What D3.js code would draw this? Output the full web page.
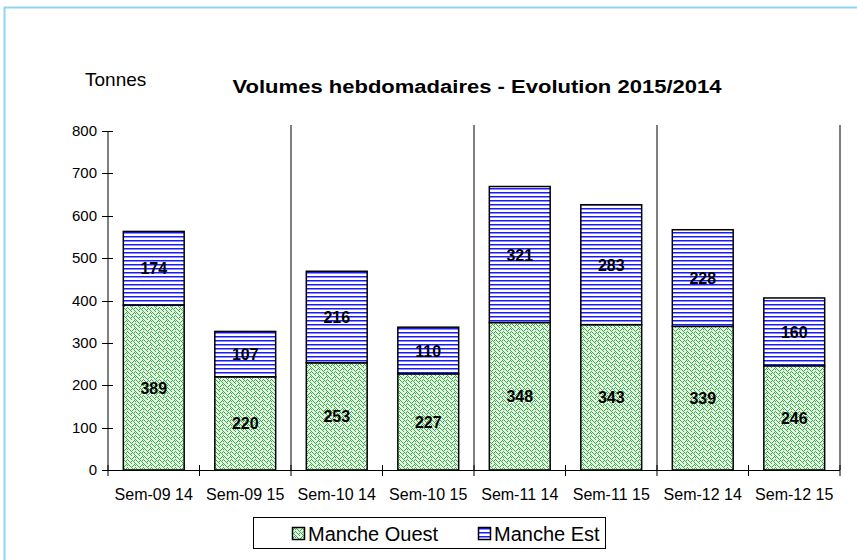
<!DOCTYPE html>
<meta charset="utf-8">
<style>
body { margin: 0; background: #fff; }
text { font-family: "Liberation Sans", Arial, sans-serif; fill: #000; }
.tick-label { font-size: 15px; }
.cat-label { font-size: 16px; }
.val { font-size: 16px; font-weight: bold; }
</style>
<body>
<script src="https://d3js.org/d3.v7.min.js"></script>
<script>
var categories = ["Sem-09 14", "Sem-09 15", "Sem-10 14", "Sem-10 15", "Sem-11 14", "Sem-11 15", "Sem-12 14", "Sem-12 15"];
var mancheOuest = [389, 220, 253, 227, 348, 343, 339, 246];
var mancheEst = [174, 107, 216, 110, 321, 283, 228, 160];
var yTicks = [0, 100, 200, 300, 400, 500, 600, 700, 800];

var W = 857, H = 560;
var plotLeft = 108, plotRight = 840, plotTop = 131, plotBottom = 470;

var svg = d3.select("body").append("svg")
  .attr("width", W)
  .attr("height", H);

// outer frame (only top and left are visible)
svg.append("rect")
  .attr("x", 4.5).attr("y", 7.5)
  .attr("width", 900).attr("height", 600)
  .attr("fill", "none")
  .attr("stroke", "#8fd4f2")
  .attr("stroke-width", 2);

var defs = svg.append("defs");

// green weave pattern
var weave = ["10000010", "01000101", "00101000", "00010001", "10001010", "01010100", "00100010", "00010001"];
var pw = defs.append("pattern")
  .attr("id", "weave")
  .attr("patternUnits", "userSpaceOnUse")
  .attr("width", 8).attr("height", 8);
pw.append("rect").attr("width", 8).attr("height", 8).attr("fill", "#fff");
weave.forEach(function(row, r) {
  row.split("").forEach(function(c, i) {
    if (c === "1") {
      pw.append("rect").attr("x", i).attr("y", r).attr("width", 1).attr("height", 1)
        .attr("fill", "#3fae4a");
    }
  });
});
// soften with a pale green wash
pw.insert("rect", "rect:nth-child(2)").attr("width", 8).attr("height", 8).attr("fill", "#e4f4e4");

// blue horizontal lines pattern
var ph = defs.append("pattern")
  .attr("id", "hlines")
  .attr("patternUnits", "userSpaceOnUse")
  .attr("width", 8).attr("height", 4);
ph.append("rect").attr("width", 8).attr("height", 4).attr("fill", "#fff");
ph.append("rect").attr("y", 0).attr("width", 8).attr("height", 1).attr("fill", "#1a1aff");
ph.append("rect").attr("y", 1).attr("width", 8).attr("height", 1).attr("fill", "#8c8cff");

var x = d3.scaleBand().domain(categories).range([plotLeft, plotRight]).paddingInner(0.335).paddingOuter(0.1675);
var y = d3.scaleLinear().domain([0, 800]).range([plotBottom, plotTop]);

// separators every two categories
var step = (plotRight - plotLeft) / categories.length;
d3.range(2, categories.length + 1, 2).forEach(function(i) {
  svg.append("line")
    .attr("x1", plotLeft + i * step).attr("x2", plotLeft + i * step)
    .attr("y1", 125).attr("y2", plotBottom)
    .attr("stroke", "#000").attr("stroke-width", 1);
});

// y axis
svg.append("line").attr("x1", plotLeft).attr("x2", plotLeft).attr("y1", plotTop).attr("y2", plotBottom)
  .attr("stroke", "#000");
yTicks.forEach(function(t) {
  svg.append("line").attr("x1", plotLeft - 6).attr("x2", plotLeft + 5)
    .attr("y1", Math.round(y(t)) + 0.5).attr("y2", Math.round(y(t)) + 0.5)
    .attr("stroke", "#000");
  svg.append("text").attr("class", "tick-label")
    .attr("x", plotLeft - 11).attr("y", y(t) + 5)
    .attr("text-anchor", "end").text(t);
});

// x axis
svg.append("line").attr("x1", plotLeft).attr("x2", plotRight).attr("y1", plotBottom + 0.5).attr("y2", plotBottom + 0.5)
  .attr("stroke", "#000");
d3.range(0, categories.length + 1).forEach(function(i) {
  svg.append("line")
    .attr("x1", plotLeft + i * step).attr("x2", plotLeft + i * step)
    .attr("y1", plotBottom - 5).attr("y2", plotBottom + 6)
    .attr("stroke", "#000");
});
svg.selectAll(".cat").data(categories).enter().append("text")
  .attr("class", "cat-label")
  .attr("x", function(d) { return x(d) + x.bandwidth() / 2; })
  .attr("y", plotBottom + 30)
  .attr("text-anchor", "middle")
  .text(function(d) { return d; });

// bars
categories.forEach(function(c, i) {
  var o = mancheOuest[i], e = mancheEst[i];
  svg.append("rect")
    .attr("x", x(c)).attr("width", x.bandwidth())
    .attr("y", y(o)).attr("height", y(0) - y(o))
    .attr("fill", "url(#weave)").attr("stroke", "#000").attr("stroke-width", 1.5);
  svg.append("rect")
    .attr("x", x(c)).attr("width", x.bandwidth())
    .attr("y", y(o + e)).attr("height", y(o) - y(o + e))
    .attr("fill", "url(#hlines)").attr("stroke", "#000").attr("stroke-width", 1.5);
  svg.append("text").attr("class", "val")
    .attr("x", x(c) + x.bandwidth() / 2).attr("y", y(o / 2) + 6)
    .attr("text-anchor", "middle").text(o);
  svg.append("text").attr("class", "val")
    .attr("x", x(c) + x.bandwidth() / 2).attr("y", y(o + e / 2) + 6)
    .attr("text-anchor", "middle").text(e);
});

// titles
svg.append("text").attr("x", 85).attr("y", 86).style("font-size", "19px").text("Tonnes");
svg.append("text").attr("x", 477).attr("y", 93).attr("text-anchor", "middle")
  .style("font-size", "18px").style("font-weight", "bold")
  .attr("textLength", 489).attr("lengthAdjust", "spacingAndGlyphs")
  .text("Volumes hebdomadaires - Evolution 2015/2014");

// legend
var lg = svg.append("g");
lg.append("rect").attr("x", 253.5).attr("y", 517.5).attr("width", 352).attr("height", 31)
  .attr("fill", "#fff").attr("stroke", "#000");
var legendItems = [{label: "Manche Ouest", fill: "url(#weave)", x: 292}, {label: "Manche Est", fill: "url(#hlines)", x: 478}];
legendItems.forEach(function(d) {
  lg.append("rect").attr("x", d.x + 0.5).attr("y", 527.5).attr("width", 12).attr("height", 12)
    .attr("fill", d.fill).attr("stroke", "#000").attr("stroke-width", 1.5);
  lg.append("text").attr("x", d.x + 16).attr("y", 541).style("font-size", "20px").text(d.label);
});
</script>
</body>
